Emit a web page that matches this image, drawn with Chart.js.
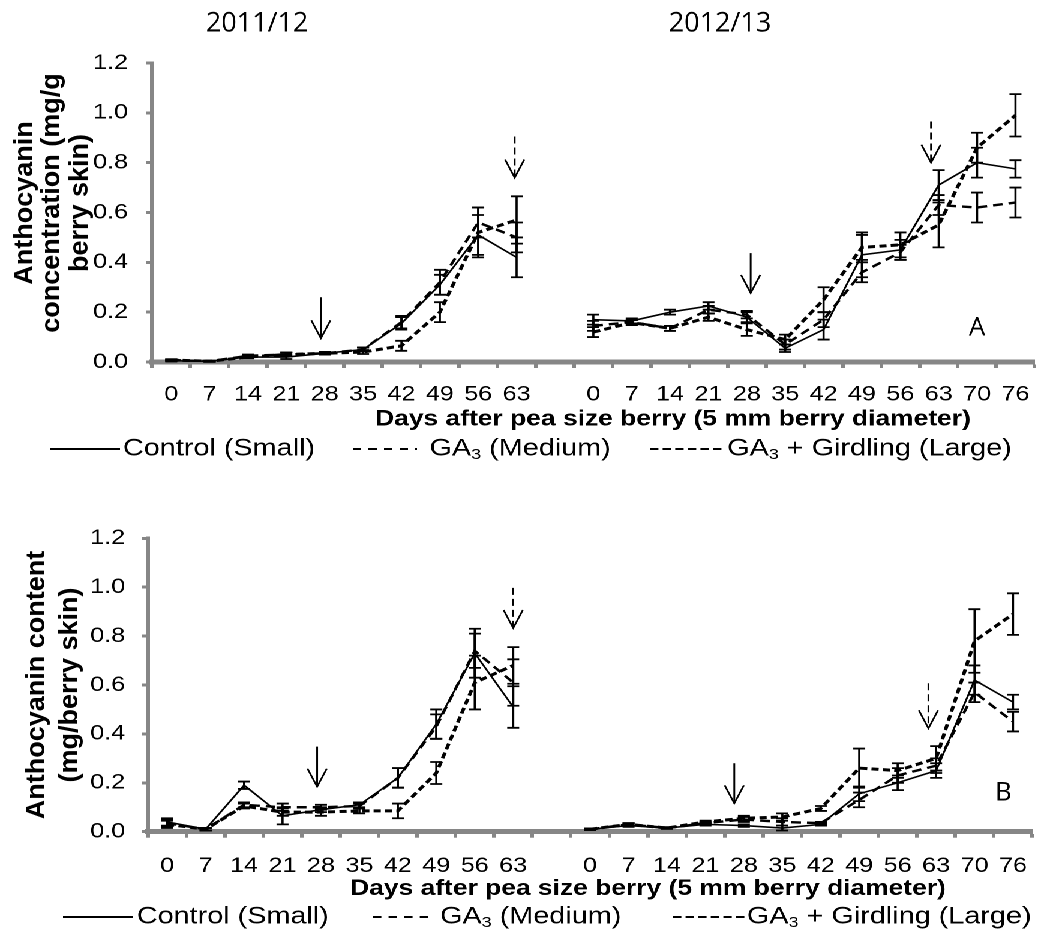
<!DOCTYPE html>
<html>
<head>
<meta charset="utf-8">
<script src="https://cdn.jsdelivr.net/npm/chart.js@4.4.1/dist/chart.umd.min.js"></script>
<style>
  html, body { margin: 0; padding: 0; background: #fff; }
  /* the whole figure is drawn narrow and widened by CSS */
  #page { width: 872px; transform: scaleX(1.2); transform-origin: 0 0; }
  .panel { position: relative; width: 872px; }
  canvas { display: block; }
</style>
</head>
<body>
<div id="page">
  <div class="panel" style="height:470px"><canvas id="chartA" width="872" height="470"></canvas></div>
  <div class="panel" style="height:464px"><canvas id="chartB" width="872" height="464"></canvas></div>
</div>
<script>
const STRETCH = 1.2;

// sampling days for the two seasons
const days1112 = [0, 7, 14, 21, 28, 35, 42, 49, 56, 63];
const days1213 = [0, 7, 14, 21, 28, 35, 42, 49, 56, 63, 70, 76];
const seasons = ['2011/12', '2012/13'];
const treatments = ['Control (Small)', 'GA₃ (Medium)', 'GA₃ + Girdling (Large)'];
const yTicks = [0, 0.2, 0.4, 0.6, 0.8, 1.0, 1.2];

// A: anthocyanin concentration (mg/g berry skin), mean and error
const concControl1112 = [0.005, 0.003, 0.02, 0.02, 0.035, 0.05, 0.155, 0.31, 0.51, 0.42];
const concControl1112Err = [0.003, 0.002, 0.005, 0.008, 0.005, 0.008, 0.025, 0.04, 0.08, 0.08];
const concGA1112 = [0.008, 0.003, 0.025, 0.03, 0.035, 0.05, 0.16, 0.32, 0.56, 0.50];
const concGA1112Err = [0.003, 0.002, 0.005, 0.008, 0.005, 0.008, 0.025, 0.05, 0.06, 0.06];
const concGAG1112 = [0.008, 0.003, 0.02, 0.03, 0.035, 0.04, 0.065, 0.20, 0.52, 0.57];
const concGAG1112Err = [0.003, 0.002, 0.005, 0.008, 0.005, 0.008, 0.02, 0.04, 0.10, 0.095];

const concControl1213 = [0.17, 0.165, 0.20, 0.225, 0.18, 0.055, 0.13, 0.43, 0.45, 0.71, 0.80, 0.775];
const concControl1213Err = [0.02, 0.01, 0.01, 0.015, 0.02, 0.015, 0.04, 0.09, 0.04, 0.06, 0.06, 0.035];
const concGA1213 = [0.145, 0.16, 0.135, 0.21, 0.19, 0.07, 0.17, 0.36, 0.44, 0.63, 0.62, 0.64];
const concGA1213Err = [0.02, 0.01, 0.01, 0.015, 0.015, 0.02, 0.03, 0.04, 0.03, 0.04, 0.06, 0.06];
const concGAG1213 = [0.12, 0.158, 0.135, 0.18, 0.13, 0.09, 0.25, 0.46, 0.47, 0.55, 0.86, 0.99];
const concGAG1213Err = [0.02, 0.01, 0.01, 0.015, 0.025, 0.02, 0.05, 0.05, 0.05, 0.09, 0.06, 0.085];

// B: anthocyanin content (mg/berry skin), mean and error
const contControl1112 = [0.04, 0.01, 0.19, 0.065, 0.09, 0.11, 0.22, 0.44, 0.73, 0.51];
const contControl1112Err = [0.015, 0.005, 0.015, 0.035, 0.01, 0.01, 0.04, 0.06, 0.10, 0.085];
const contGA1112 = [0.035, 0.01, 0.11, 0.10, 0.10, 0.105, 0.22, 0.43, 0.74, 0.61];
const contGA1112Err = [0.015, 0.005, 0.01, 0.015, 0.01, 0.01, 0.04, 0.05, 0.07, 0.095];
const contGAG1112 = [0.03, 0.01, 0.105, 0.08, 0.08, 0.085, 0.085, 0.24, 0.61, 0.68];
const contGAG1112Err = [0.015, 0.005, 0.01, 0.015, 0.015, 0.01, 0.03, 0.045, 0.11, 0.075];

const contControl1213 = [0.01, 0.025, 0.015, 0.03, 0.025, 0.015, 0.03, 0.155, 0.20, 0.25, 0.62, 0.53];
const contControl1213Err = [0.003, 0.005, 0.003, 0.005, 0.005, 0.01, 0.005, 0.03, 0.03, 0.03, 0.06, 0.03];
const contGA1213 = [0.01, 0.03, 0.015, 0.035, 0.05, 0.04, 0.035, 0.13, 0.23, 0.27, 0.57, 0.45];
const contGA1213Err = [0.003, 0.005, 0.003, 0.005, 0.01, 0.015, 0.005, 0.03, 0.03, 0.03, 0.04, 0.04];
const contGAG1213 = [0.01, 0.03, 0.015, 0.04, 0.055, 0.06, 0.095, 0.26, 0.25, 0.30, 0.78, 0.89];
const contGAG1213Err = [0.003, 0.005, 0.003, 0.005, 0.01, 0.015, 0.01, 0.08, 0.03, 0.05, 0.13, 0.085];

// arrows: [category position, tail value, tip value, dashed]
const arrowsA = [[3.9, 0.26, 0.095, false], [8.95, 0.905, 0.74, true], [15.1, 0.437, 0.277, false], [19.8, 0.965, 0.80, true]];
const arrowsB = [[3.9, 0.348, 0.184, false], [9.0, 0.997, 0.833, true], [14.75, 0.28, 0.116, false], [19.8, 0.607, 0.423, true]];

// one empty slot between the seasons breaks the lines
const labels = [...days1112.map(String), '', ...days1213.map(String)];
const join = (a, b) => [...a, null, ...b];

const lineStyles = [
  { width: 1.6, dash: [] },
  { width: 2.4, dash: [8, 5] },
  { width: 3, dash: [6, 3.5] }
];
const legendDash = [[], [7, 6], [7, 3.5]];

Chart.defaults.font.family = '"Liberation Sans", Arial, sans-serif';
Chart.defaults.color = '#000';

const axisGrey = '#868686';

function unstretchedText(ctx, text, x, y, font, rotate) {
  ctx.save();
  ctx.translate(x, y);
  if (rotate) {
    ctx.rotate(-Math.PI / 2);
    ctx.scale(1, 1 / STRETCH);
  } else {
    ctx.scale(1 / STRETCH, 1);
  }
  ctx.font = font;
  ctx.fillStyle = '#000';
  ctx.textAlign = 'center';
  ctx.textBaseline = 'middle';
  ctx.fillText(text, 0, 0);
  ctx.restore();
}

function makeChart(p) {
  const datasets = treatments.map((name, i) => ({
    label: name,
    data: p.values[i],
    errorBars: p.errors[i],
    borderColor: '#000',
    borderWidth: lineStyles[i].width,
    borderDash: lineStyles[i].dash,
    pointRadius: 0,
    fill: false,
    tension: 0,
    spanGaps: false
  }));

  const errorBars = {
    id: 'errorBars',
    afterDatasetsDraw(chart) {
      const { ctx } = chart;
      const y = chart.scales.y;
      ctx.save();
      ctx.strokeStyle = '#000';
      ctx.lineWidth = 1.8;
      ctx.setLineDash([]);
      chart.data.datasets.forEach((ds, di) => {
        const meta = chart.getDatasetMeta(di);
        meta.data.forEach((pt, i) => {
          const v = ds.data[i];
          const e = ds.errorBars[i];
          if (v == null || e == null) return;
          const top = y.getPixelForValue(v + e);
          const bot = y.getPixelForValue(Math.max(v - e, 0));
          ctx.beginPath();
          ctx.moveTo(pt.x, top); ctx.lineTo(pt.x, bot);
          ctx.moveTo(pt.x - 5, top); ctx.lineTo(pt.x + 5, top);
          ctx.moveTo(pt.x - 5, bot); ctx.lineTo(pt.x + 5, bot);
          ctx.stroke();
        });
      });
      ctx.restore();
    }
  };

  const extras = {
    id: 'extras',
    afterDraw(chart) {
      const { ctx } = chart;
      const x = chart.scales.x;
      const y = chart.scales.y;

      // arrows
      ctx.save();
      ctx.strokeStyle = '#000';
      ctx.lineWidth = 1.5;
      p.arrows.forEach(([pos, tail, tip, dashed]) => {
        const ax = x.getPixelForValue(pos);
        const y0 = y.getPixelForValue(tail);
        const y1 = y.getPixelForValue(tip);
        ctx.setLineDash(dashed ? [7, 4] : []);
        ctx.beginPath();
        ctx.moveTo(ax, y0); ctx.lineTo(ax, y1);
        ctx.stroke();
        ctx.setLineDash([]);
        ctx.beginPath();
        ctx.moveTo(ax - 8, y1 - 18); ctx.lineTo(ax, y1); ctx.lineTo(ax + 8, y1 - 18);
        ctx.stroke();
      });
      ctx.restore();

      // panel letter
      unstretchedText(ctx, p.letter[0], x.getPixelForValue(p.letter[1]), y.getPixelForValue(p.letter[2]), '26px "Open Sans"', false);

      // season headings
      if (p.seasonTitles) {
        seasons.forEach((s, i) => unstretchedText(ctx, s, p.seasonTitles[i], 24, '27px "Open Sans"', false));
      }

      // y axis title
      p.yTitle.forEach((line, i) => unstretchedText(ctx, line, p.yTitleX[i], p.yTitleY, 'bold 27px "Liberation Sans", Arial', true));

      // x axis title
      ctx.save();
      ctx.font = 'bold 22px "Liberation Sans", Arial';
      ctx.fillStyle = '#000';
      ctx.textAlign = 'center';
      ctx.textBaseline = 'middle';
      ctx.fillText('Days after pea size berry (5 mm berry diameter)', p.xTitleX, p.xTitleY);
      ctx.restore();

      // legend
      ctx.save();
      ctx.strokeStyle = '#000';
      ctx.fillStyle = '#000';
      ctx.textBaseline = 'middle';
      ctx.textAlign = 'left';
      treatments.forEach((name, i) => {
        const [x1, x2, tx] = p.legend[i];
        const ly = p.legendY;
        ctx.lineWidth = 2;
        ctx.setLineDash(legendDash[i]);
        ctx.beginPath();
        ctx.moveTo(x1, ly); ctx.lineTo(x2, ly);
        ctx.stroke();
        ctx.setLineDash([]);
        const parts = name.split('₃');
        let cx = tx;
        ctx.font = '24px "Liberation Sans", Arial';
        ctx.fillText(parts[0], cx, ly);
        cx += ctx.measureText(parts[0]).width;
        if (parts.length > 1) {
          ctx.font = '15px "Liberation Sans", Arial';
          ctx.fillText('3', cx, ly + 6);
          cx += ctx.measureText('3').width;
          ctx.font = '24px "Liberation Sans", Arial';
          ctx.fillText(parts[1], cx, ly);
        }
      });
      ctx.restore();
    }
  };

  return new Chart(document.getElementById(p.canvas), {
    type: 'line',
    data: { labels, datasets },
    options: {
      responsive: false,
      maintainAspectRatio: false,
      devicePixelRatio: 2,
      animation: false,
      layout: {
        padding: { top: p.padTop, left: 0, right: p.padRight, bottom: p.padBottom }
      },
      plugins: {
        legend: { display: false },
        tooltip: { enabled: false }
      },
      scales: {
        x: {
          type: 'category',
          offset: true,
          grid: {
            display: true,
            drawOnChartArea: false,
            offset: true,
            tickLength: 6,
            tickWidth: 3,
            tickColor: axisGrey,
            color: axisGrey
          },
          border: { display: true, color: axisGrey, width: 5 },
          ticks: {
            autoSkip: false,
            maxRotation: 0,
            minRotation: 0,
            padding: p.xTickPad,
            font: { size: 21 }
          },
          afterFit(scale) { scale.height = 45; }
        },
        y: {
          min: 0,
          max: 1.2,
          afterBuildTicks(scale) { scale.ticks = yTicks.map(v => ({ value: v })); },
          grid: {
            display: true,
            drawOnChartArea: false,
            tickLength: 5,
            tickWidth: 3,
            tickColor: axisGrey,
            color: axisGrey
          },
          border: { display: true, color: axisGrey, width: 3.5 },
          ticks: {
            padding: p.yTickPad,
            font: { size: 21 },
            callback: v => Number(v).toFixed(1)
          },
          afterFit(scale) { scale.width = p.axisLeft; }
        }
      }
    },
    plugins: [errorBars, extras]
  });
}

makeChart({
  canvas: 'chartA',
  values: [join(concControl1112, concControl1213), join(concGA1112, concGA1213), join(concGAG1112, concGAG1213)],
  errors: [join(concControl1112Err, concControl1213Err), join(concGA1112Err, concGA1213Err), join(concGAG1112Err, concGAG1213Err)],
  yTitle: ['Anthocyanin', 'concentration (mg/g', 'berry skin)'],
  yTitleX: [20.8, 43.3, 66.7],
  yTitleY: 203,
  axisLeft: 126.7,
  padTop: 63,
  padRight: 4.8,
  padBottom: 63,
  xTickPad: 14,
  yTickPad: 15,
  xTitleX: 560.8,
  xTitleY: 419.5,
  legendY: 449,
  legend: [[41.7, 100, 102.5], [294, 347.5, 358], [541.7, 602.5, 606]],
  arrows: arrowsA,
  letter: ['A', 21, 0.136],
  seasonTitles: [214.2, 600]
});

makeChart({
  canvas: 'chartB',
  values: [join(contControl1112, contControl1213), join(contGA1112, contGA1213), join(contGAG1112, contGAG1213)],
  errors: [join(contControl1112Err, contControl1213Err), join(contGA1112Err, contGA1213Err), join(contGAG1112Err, contGAG1213Err)],
  yTitle: ['Anthocyanin content', '(mg/berry skin)'],
  yTitleX: [30.8, 58.3],
  yTitleY: 215,
  axisLeft: 123.3,
  padTop: 68.3,
  padRight: 6.2,
  padBottom: 57.3,
  xTickPad: 16,
  yTickPad: 14,
  xTitleX: 540,
  xTitleY: 419,
  legendY: 447,
  legend: [[52.5, 110.8, 114], [310.8, 360.8, 366.7], [560.8, 620.8, 622.5]],
  arrows: arrowsB,
  letter: ['B', 21.75, 0.158],
  seasonTitles: null
});
</script>
</body>
</html>
